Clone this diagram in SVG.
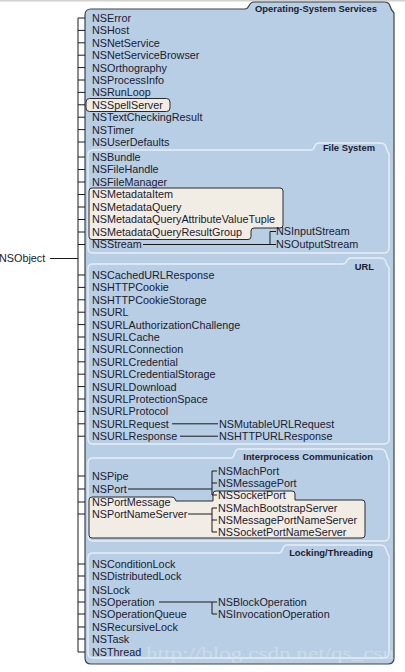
<svg xmlns="http://www.w3.org/2000/svg" width="405" height="672" viewBox="0 0 405 672">
<style>
.bg{fill:#ffffff}
.outer{fill:#b8cee4;stroke:#3c444c;stroke-width:1.2}
.sub{fill:#b8cee4;stroke:#e6eef6;stroke-width:1.4}
.hl{fill:#f1ece4;stroke:#2a2a2a;stroke-width:1}
.t{font-family:"Liberation Sans",Arial,sans-serif;font-size:10.8px;fill:#1a2030}
.tab{font-family:"Liberation Sans",Arial,sans-serif;font-size:9.4px;font-weight:bold;fill:#1a2030;text-anchor:end}
.c line,.c path{stroke:#1a1a1a;stroke-width:1;fill:none}
.wm{font-family:"Liberation Serif",serif;font-size:17px;fill:#dfe7ef;opacity:0.55}
</style>
<rect class="bg" x="0" y="0" width="405" height="672"/>
<rect x="0" y="0" width="405" height="1.5" fill="#d2d2d2"/>

<!-- panels -->
<g id="panel-os">
<path class="outer" d="M85,15 Q85,9 91,9 H245 C250,9 248,2 254,2 H384 Q389,2 390,6 Q391,10 394,13 V658 Q394,664 388,664 H91 Q85,664 85,658 Z"/>
<text class="tab" x="377" y="11.5">Operating-System Services</text>
</g>
<g id="panel-fs">
<path class="sub" d="M88,155 Q88,150 93,150 H311 C316,150 313,143 319,143 H380 Q385,143 386,147 Q387,151 389,154 V248 Q389,253 384,253 H93 Q88,253 88,248 Z"/>
<text class="tab" x="375" y="150.5">File System</text>
</g>
<g id="panel-url">
<path class="sub" d="M88,269 Q88,264 93,264 H343 C348,264 345,258 351,258 H380 Q385,258 386,262 Q387,266 389,268 V439 Q389,444 384,444 H93 Q88,444 88,439 Z"/>
<text class="tab" x="374" y="269.5">URL</text>
</g>
<g id="panel-ipc">
<path class="sub" d="M88,463 Q88,458 93,458 H231 C236,458 233,449 239,449 H380 Q385,449 386,453 Q387,458 389,461 V536 Q389,541 384,541 H93 Q88,541 88,536 Z"/>
<text class="tab" x="373" y="459.5">Interprocess Communication</text>
</g>
<g id="panel-lock">
<path class="sub" d="M88,558 Q88,553 93,553 H279 C284,553 281,545 287,545 H380 Q385,545 386,549 Q387,553 389,556 V653 Q389,658 384,658 H93 Q88,658 88,653 Z"/>
<text class="tab" x="373" y="555.5">Locking/Threading</text>
</g>

<!-- highlight boxes -->
<rect class="hl" x="86" y="98.5" width="84" height="13" rx="3.5"/>
<path class="hl" d="M89,191 Q89,188 92,188 H280 Q283,188 283,191 V225 Q283,228 280,228 H254 Q251,228 251,231 V236.5 Q251,239.5 248,239.5 H92 Q89,239.5 89,236.5 Z"/>
<path class="hl" d="M89,500 Q89,497 92,497 H171 Q175,497 175,499 L176,501 H213 V494 Q213,491 216,491 H292 Q295,491 295,494 V500 H362 Q365,500 365,503 V535 Q365,538 362,538 H92 Q89,538 89,535 Z"/>

<text class="wm" x="146" y="659" textLength="248" lengthAdjust="spacingAndGlyphs">http://blog.csdn.net/qs_csu</text>

<!-- connectors -->
<g class="c" id="connectors">
<line x1="50" y1="258.5" x2="78" y2="258.5"/>
<line x1="78" y1="18" x2="78" y2="652"/>
<path d="M78,18H85M78,30.4H85M78,42.8H85M78,55.2H85M78,67.6H85M78,80H85M78,92.4H85M78,104.8H85M78,117.2H85M78,129.6H85M78,142H85"/>
<path d="M78,157H85M78,169.5H85M78,182H85M78,194.5H85M78,207H85M78,219.5H85M78,232H85M78,244.5H85"/>
<path d="M78,275H85M78,287.4H85M78,299.8H85M78,312.2H85M78,324.6H85M78,337H85M78,349.4H85M78,361.8H85M78,374.2H85M78,386.6H85M78,399H85M78,411.4H85M78,423.8H85M78,436.2H85"/>
<path d="M78,476H85M78,489H85M78,502H85M78,514H85"/>
<path d="M78,564H85M78,576H85M78,590H85M78,602H85M78,614H85M78,627H85M78,639H85M78,652H85"/>
<path d="M143,244.5H276M276,231.5H270V244.5"/>
<path d="M172,423.8H218M180,436.2H218"/>
<path d="M128,489H212M217,471H212V495H217M212,483H217"/>
<path d="M188,514H212M217,508H212V532H217M212,520H217"/>
<path d="M159,602H217M212,602V614H217"/>
</g>

<!-- nodes -->
<g id="NSObject"><text class="t" x="-1" y="262.4">NSObject</text></g>
<g id="NSError"><text class="t" x="92" y="21.9">NSError</text></g>
<g id="NSHost"><text class="t" x="92" y="34.3">NSHost</text></g>
<g id="NSNetService"><text class="t" x="92" y="46.7">NSNetService</text></g>
<g id="NSNetServiceBrowser"><text class="t" x="92" y="59.1">NSNetServiceBrowser</text></g>
<g id="NSOrthography"><text class="t" x="92" y="71.5">NSOrthography</text></g>
<g id="NSProcessInfo"><text class="t" x="92" y="83.9">NSProcessInfo</text></g>
<g id="NSRunLoop"><text class="t" x="92" y="96.3">NSRunLoop</text></g>
<g id="NSSpellServer"><text class="t" x="92" y="108.7">NSSpellServer</text></g>
<g id="NSTextCheckingResult"><text class="t" x="92" y="121.1">NSTextCheckingResult</text></g>
<g id="NSTimer"><text class="t" x="92" y="133.5">NSTimer</text></g>
<g id="NSUserDefaults"><text class="t" x="92" y="145.9">NSUserDefaults</text></g>

<g id="NSBundle"><text class="t" x="92" y="160.9">NSBundle</text></g>
<g id="NSFileHandle"><text class="t" x="92" y="173.4">NSFileHandle</text></g>
<g id="NSFileManager"><text class="t" x="92" y="185.9">NSFileManager</text></g>
<g id="NSMetadataItem"><text class="t" x="92" y="198.4">NSMetadataItem</text></g>
<g id="NSMetadataQuery"><text class="t" x="92" y="210.9">NSMetadataQuery</text></g>
<g id="NSMetadataQueryAttributeValueTuple"><text class="t" x="92" y="223.4">NSMetadataQueryAttributeValueTuple</text></g>
<g id="NSMetadataQueryResultGroup"><text class="t" x="92" y="235.9">NSMetadataQueryResultGroup</text></g>
<g id="NSStream"><text class="t" x="92" y="248.4">NSStream</text></g>
<g id="NSInputStream"><text class="t" x="276" y="235.4">NSInputStream</text></g>
<g id="NSOutputStream"><text class="t" x="276" y="248.4">NSOutputStream</text></g>

<g id="NSCachedURLResponse"><text class="t" x="92" y="278.9">NSCachedURLResponse</text></g>
<g id="NSHTTPCookie"><text class="t" x="92" y="291.3">NSHTTPCookie</text></g>
<g id="NSHTTPCookieStorage"><text class="t" x="92" y="303.7">NSHTTPCookieStorage</text></g>
<g id="NSURL"><text class="t" x="92" y="316.1">NSURL</text></g>
<g id="NSURLAuthorizationChallenge"><text class="t" x="92" y="328.5">NSURLAuthorizationChallenge</text></g>
<g id="NSURLCache"><text class="t" x="92" y="340.9">NSURLCache</text></g>
<g id="NSURLConnection"><text class="t" x="92" y="353.3">NSURLConnection</text></g>
<g id="NSURLCredential"><text class="t" x="92" y="365.7">NSURLCredential</text></g>
<g id="NSURLCredentialStorage"><text class="t" x="92" y="378.1">NSURLCredentialStorage</text></g>
<g id="NSURLDownload"><text class="t" x="92" y="390.5">NSURLDownload</text></g>
<g id="NSURLProtectionSpace"><text class="t" x="92" y="402.9">NSURLProtectionSpace</text></g>
<g id="NSURLProtocol"><text class="t" x="92" y="415.3">NSURLProtocol</text></g>
<g id="NSURLRequest"><text class="t" x="92" y="427.7">NSURLRequest</text></g>
<g id="NSURLResponse"><text class="t" x="92" y="440.1">NSURLResponse</text></g>
<g id="NSMutableURLRequest"><text class="t" x="219" y="427.7">NSMutableURLRequest</text></g>
<g id="NSHTTPURLResponse"><text class="t" x="219" y="440.1">NSHTTPURLResponse</text></g>

<g id="NSPipe"><text class="t" x="92" y="479.9">NSPipe</text></g>
<g id="NSPort"><text class="t" x="92" y="492.9">NSPort</text></g>
<g id="NSPortMessage"><text class="t" x="92" y="505.9">NSPortMessage</text></g>
<g id="NSPortNameServer"><text class="t" x="92" y="517.9">NSPortNameServer</text></g>
<g id="NSMachPort"><text class="t" x="218" y="474.9">NSMachPort</text></g>
<g id="NSMessagePort"><text class="t" x="218" y="486.9">NSMessagePort</text></g>
<g id="NSSocketPort"><text class="t" x="218" y="498.9">NSSocketPort</text></g>
<g id="NSMachBootstrapServer"><text class="t" x="218" y="511.9">NSMachBootstrapServer</text></g>
<g id="NSMessagePortNameServer"><text class="t" x="218" y="523.9">NSMessagePortNameServer</text></g>
<g id="NSSocketPortNameServer"><text class="t" x="218" y="535.9">NSSocketPortNameServer</text></g>

<g id="NSConditionLock"><text class="t" x="92" y="567.9">NSConditionLock</text></g>
<g id="NSDistributedLock"><text class="t" x="92" y="579.9">NSDistributedLock</text></g>
<g id="NSLock"><text class="t" x="92" y="593.9">NSLock</text></g>
<g id="NSOperation"><text class="t" x="92" y="605.9">NSOperation</text></g>
<g id="NSOperationQueue"><text class="t" x="92" y="617.9">NSOperationQueue</text></g>
<g id="NSRecursiveLock"><text class="t" x="92" y="630.9">NSRecursiveLock</text></g>
<g id="NSTask"><text class="t" x="92" y="642.9">NSTask</text></g>
<g id="NSThread"><text class="t" x="92" y="655.9">NSThread</text></g>
<g id="NSBlockOperation"><text class="t" x="218" y="605.9">NSBlockOperation</text></g>
<g id="NSInvocationOperation"><text class="t" x="218" y="617.9">NSInvocationOperation</text></g>
</svg>
